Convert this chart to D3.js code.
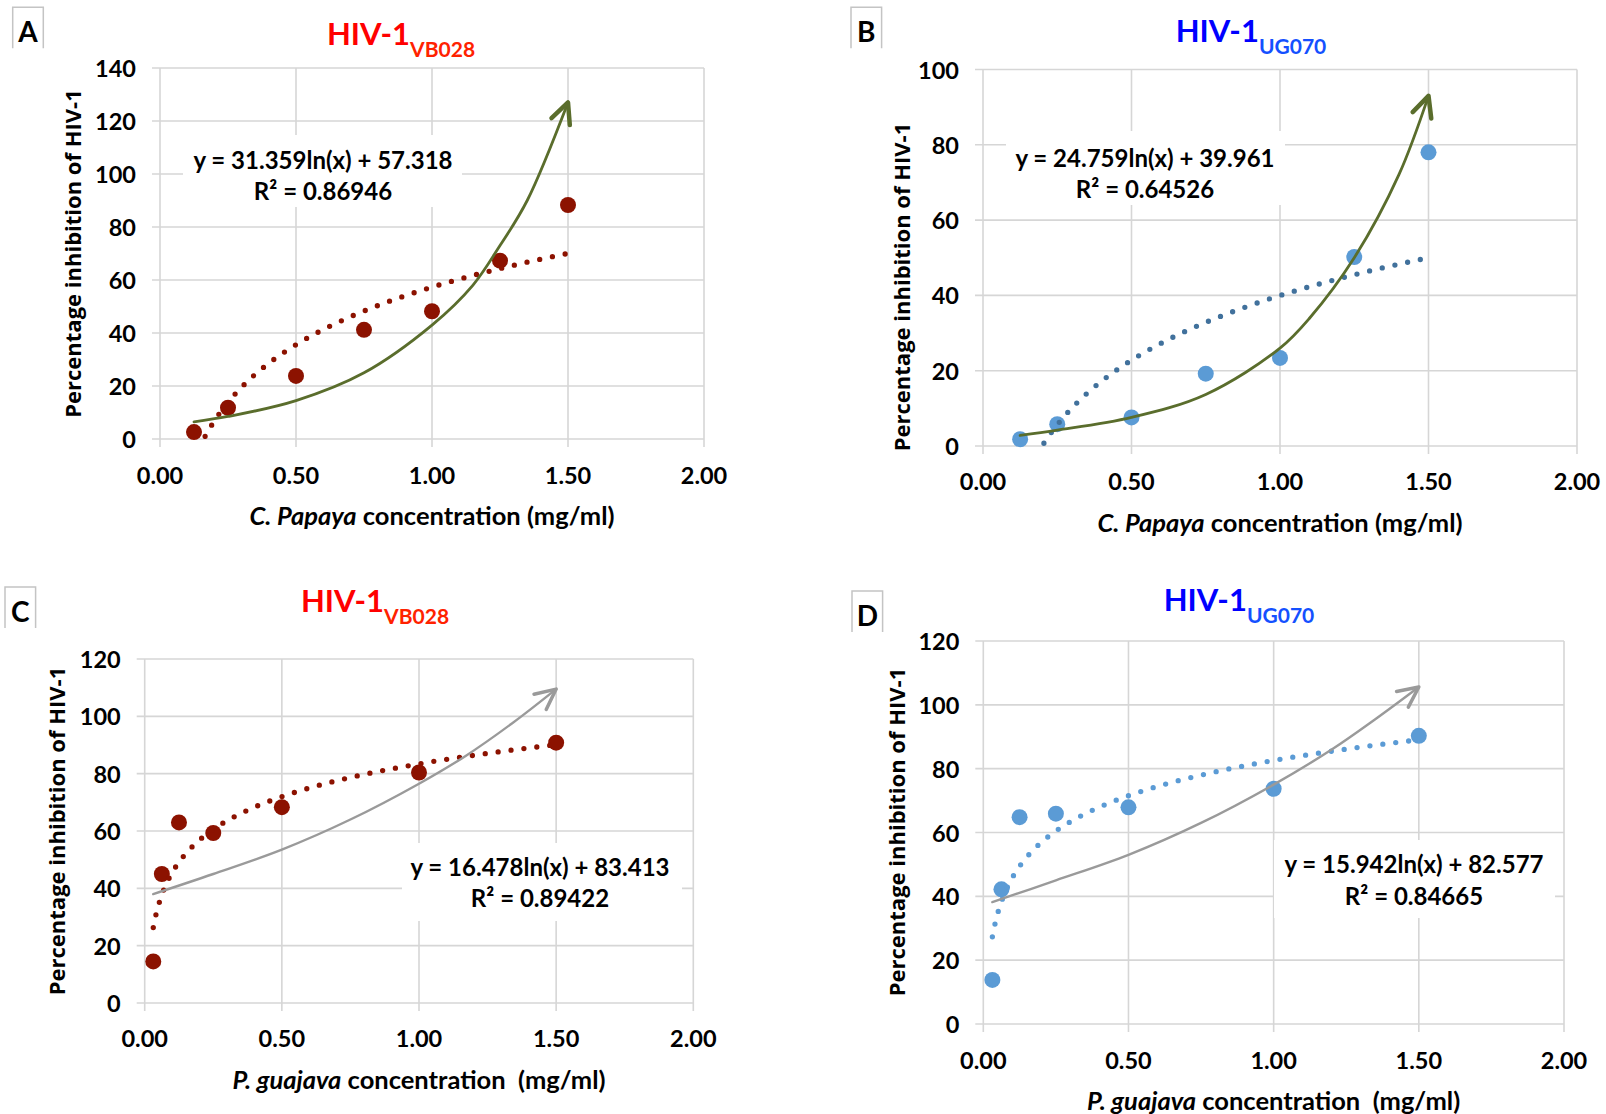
<!DOCTYPE html>
<html>
<head>
<meta charset="utf-8">
<script src="https://cdn.jsdelivr.net/npm/d3@7"></script>
<style>
  html, body { margin: 0; padding: 0; background: #fff; }
  svg { display: block; }
  text { font-family: Lato, "Open Sans", sans-serif; font-weight: bold; }
  .ytitle { font-family: "Open Sans", Lato, sans-serif; }
</style>
</head>
<body>
<div class="content"></div>
<script>
// concentrations (mg/ml)
var papayaConc = [0.125, 0.25, 0.5, 0.75, 1.0, 1.25, 1.5];
var guajavaConc = [0.03125, 0.0625, 0.125, 0.25, 0.5, 1.0, 1.5];

// percentage inhibition
var inhibA = [2.6, 11.8, 23.8, 41.2, 48.2, 67.3, 88.3];
var inhibB = [1.8, 5.8, 7.6, 19.2, 23.4, 50.2, 78.0];
var inhibC = [14.5, 45.0, 63.0, 59.3, 68.3, 80.4, 90.8];
var inhibD = [13.8, 42.2, 64.8, 65.9, 67.9, 73.7, 90.3];

// log trendlines: y = a ln(x) + b, and R²
var fitA = [31.359, 57.318], r2A = '0.86946';
var fitB = [24.759, 39.961], r2B = '0.64526';
var fitC = [16.478, 83.413], r2C = '0.89422';
var fitD = [15.942, 82.577], r2D = '0.84665';

// hand-drawn arrows laid over the plots
var arrowA = [[0.125, 6.5], [0.25, 8.5], [0.5, 14.5], [0.75, 25], [1.0, 43], [1.15, 58], [1.25, 73], [1.35, 90], [1.5, 127]];
var arrowB = [[0.125, 2.8], [0.25, 4.2], [0.5, 7.6], [0.75, 13.7], [1.0, 26], [1.1, 34], [1.25, 50], [1.4, 72], [1.5, 93]];
var arrowC = [[0.031, 38], [0.25, 45], [0.5, 53.5], [0.75, 64], [1.0, 76.5], [1.17, 86.2], [1.34, 97.6], [1.5, 109.5]];
var arrowD = [[0.031, 38.2], [0.25, 45], [0.5, 53], [0.75, 63], [1.0, 75], [1.2, 86], [1.35, 95.5], [1.5, 105.6]];

// ticks
var xTicks = [0, 0.5, 1.0, 1.5, 2.0];
var yTicksA = [0, 20, 40, 60, 80, 100, 120, 140];
var yTicksB = [0, 20, 40, 60, 80, 100];
var yTicksCD = [0, 20, 40, 60, 80, 100, 120];

// цвета
var red = '#8c1200',
    blue = '#5b9bd5',
    blueDark = '#41719c',
    olive = '#5a6d2c',
    grey = '#9a9a9a',
    gridColor = '#d6d6d6';

var w = 1606,
    h = 1114;

var svg = d3.select('.content').append('svg')
    .attr('width', w)
    .attr('height', h);

var defs = svg.append('defs');

// наконечники стрелок
[['arrow-olive', olive, 4.5], ['arrow-grey', grey, 3.5]].forEach(function(m) {
    defs.append('marker')
        .attr('id', m[0])
        .attr('markerUnits', 'userSpaceOnUse')
        .attr('viewBox', '-30 -16 36 32')
        .attr('markerWidth', 36)
        .attr('markerHeight', 32)
        .attr('refX', 0)
        .attr('refY', 0)
        .attr('orient', 'auto')
        .append('path')
        .attr('d', 'M-20.5,-9.8L0,0L-20.5,9.8')
        .attr('fill', 'none')
        .attr('stroke', m[1])
        .attr('stroke-width', m[2])
        .attr('stroke-linecap', 'round')
        .attr('stroke-linejoin', 'round');
});

var panels = [
    { id: 'A', conc: papayaConc, vals: inhibA, fit: fitA, r2: r2A, arrow: arrowA, yTicks: yTicksA,
      color: red, trendColor: red, arrowColor: olive, marker: 'arrow-olive', arrowW: 2.8,
      title: 'VB028', titleColor: '#ff0000', subColor: '#ff2200', species: 'C. Papaya', gap: ' ',
      x0: 160, x1: 704, y0: 439, y1: 68,
      letter: [12.7, 7.3], titleX: 401, titleY: 45, yTitleX: 72, yTitleY: 253.5,
      xLabY: 475, xTitleY: 515, eqBox: [183, 135, 279, 72], eqX: 323, eqY: [159, 190] },
    { id: 'B', conc: papayaConc, vals: inhibB, fit: fitB, r2: r2B, arrow: arrowB, yTicks: yTicksB,
      color: blue, trendColor: blueDark, arrowColor: olive, marker: 'arrow-olive', arrowW: 2.8,
      title: 'UG070', titleColor: '#0000ff', subColor: '#1450ff', species: 'C. Papaya', gap: ' ',
      x0: 983, x1: 1577, y0: 446, y1: 69.5,
      letter: [851, 7.3], titleX: 1251, titleY: 42, yTitleX: 901, yTitleY: 287,
      xLabY: 481, xTitleY: 522, eqBox: [1006, 131, 279, 74], eqX: 1145, eqY: [157, 188.5] },
    { id: 'C', conc: guajavaConc, vals: inhibC, fit: fitC, r2: r2C, arrow: arrowC, yTicks: yTicksCD,
      color: red, trendColor: red, arrowColor: grey, marker: 'arrow-grey', arrowW: 2.4,
      title: 'VB028', titleColor: '#ff0000', subColor: '#ff2200', species: 'P. guajava', gap: '  ',
      x0: 144.7, x1: 693.3, y0: 1003, y1: 659,
      letter: [5, 587], titleX: 375, titleY: 612, yTitleX: 56, yTitleY: 831,
      xLabY: 1037.5, xTitleY: 1078.5, eqBox: [402, 843, 280, 78], eqX: 540, eqY: [866.7, 897.3] },
    { id: 'D', conc: guajavaConc, vals: inhibD, fit: fitD, r2: r2D, arrow: arrowD, yTicks: yTicksCD,
      color: blue, trendColor: blue, arrowColor: grey, marker: 'arrow-grey', arrowW: 2.4,
      title: 'UG070', titleColor: '#0000ff', subColor: '#1450ff', species: 'P. guajava', gap: '  ',
      x0: 983.3, x1: 1564, y0: 1024, y1: 641,
      letter: [852, 591], titleX: 1239, titleY: 611, yTitleX: 896, yTitleY: 832,
      xLabY: 1060, xTitleY: 1100, eqBox: [1274, 840, 281, 78], eqX: 1414, eqY: [863.4, 895] }
];

panels.forEach(drawPanel);

function drawPanel(p) {
    var g = svg.append('g').attr('class', 'panel panel-' + p.id);

    var x = d3.scaleLinear().domain([0, 2]).range([p.x0, p.x1]);
    var y = d3.scaleLinear().domain([0, d3.max(p.yTicks)]).range([p.y0, p.y1]);

    // буква панели в рамке
    var lx = p.letter[0], ly = p.letter[1];
    g.append('path')
        .attr('d', 'M' + lx + ',' + (ly + 41) + 'V' + ly + 'H' + (lx + 30.6) + 'V' + (ly + 41))
        .attr('fill', 'none')
        .attr('stroke', '#c4c4c4')
        .attr('stroke-width', 1.5);
    g.append('text')
        .attr('x', lx + 15.3)
        .attr('y', ly + 24)
        .attr('text-anchor', 'middle')
        .attr('dominant-baseline', 'central')
        .style('font-size', '28px')
        .text(p.id);

    // заголовок
    var t = g.append('text')
        .attr('x', p.titleX)
        .attr('y', p.titleY)
        .attr('text-anchor', 'middle');
    t.append('tspan').attr('fill', p.titleColor).style('font-size', '31px').text('HIV-1');
    t.append('tspan').attr('fill', p.subColor).attr('dy', 12).style('font-size', '21px').text(p.title);

    // сетка
    g.append('g').selectAll('line.h')
        .data(p.yTicks)
        .enter().append('line')
        .attr('x1', p.x0 - 8).attr('x2', p.x1)
        .attr('y1', y).attr('y2', y)
        .attr('stroke', gridColor).attr('stroke-width', 1.6);
    g.append('g').selectAll('line.v')
        .data(xTicks)
        .enter().append('line')
        .attr('x1', x).attr('x2', x)
        .attr('y1', p.y0 + 8).attr('y2', p.y1)
        .attr('stroke', gridColor).attr('stroke-width', 1.6);

    // подписи осей
    g.append('g').selectAll('text')
        .data(p.yTicks)
        .enter().append('text')
        .attr('x', p.x0 - 24)
        .attr('y', y)
        .attr('text-anchor', 'end')
        .attr('dominant-baseline', 'central')
        .style('font-size', '23.5px')
        .text(function(d) { return d; });
    g.append('g').selectAll('text')
        .data(xTicks)
        .enter().append('text')
        .attr('x', x)
        .attr('y', p.xLabY)
        .attr('text-anchor', 'middle')
        .attr('dominant-baseline', 'central')
        .style('font-size', '23.5px')
        .text(d3.format('.2f'));

    g.append('text')
        .attr('class', 'ytitle')
        .attr('transform', 'translate(' + p.yTitleX + ',' + p.yTitleY + ')rotate(-90)')
        .attr('text-anchor', 'middle')
        .attr('dominant-baseline', 'central')
        .style('font-size', '22px')
        .text('Percentage inhibition of HIV-1');

    var xt = g.append('text')
        .attr('x', (p.x0 + p.x1) / 2)
        .attr('y', p.xTitleY)
        .attr('text-anchor', 'middle')
        .attr('dominant-baseline', 'central')
        .style('font-size', '25.5px')
        .style('white-space', 'pre');
    xt.append('tspan').style('font-style', 'italic').text(p.species);
    xt.append('tspan').text(' concentration' + p.gap + '(mg/ml)');

    // подложка под уравнение
    g.append('rect')
        .attr('x', p.eqBox[0]).attr('y', p.eqBox[1])
        .attr('width', p.eqBox[2]).attr('height', p.eqBox[3])
        .attr('fill', '#fff');
    g.append('text')
        .attr('x', p.eqX).attr('y', p.eqY[0])
        .attr('text-anchor', 'middle')
        .attr('dominant-baseline', 'central')
        .style('font-size', '24px')
        .text('y = ' + p.fit[0].toFixed(3) + 'ln(x) + ' + p.fit[1].toFixed(3));
    g.append('text')
        .attr('x', p.eqX).attr('y', p.eqY[1])
        .attr('text-anchor', 'middle')
        .attr('dominant-baseline', 'central')
        .style('font-size', '24px')
        .text('R² = ' + p.r2);

    // область построения с обрезкой
    var clipId = 'clip-' + p.id;
    defs.append('clipPath').attr('id', clipId)
        .append('rect')
        .attr('x', p.x0).attr('y', p.y1)
        .attr('width', p.x1 - p.x0).attr('height', p.y0 - p.y1);

    // точки
    g.append('g').selectAll('circle')
        .data(p.conc)
        .enter().append('circle')
        .attr('cx', x)
        .attr('cy', function(d, i) { return y(p.vals[i]); })
        .attr('r', 8)
        .attr('fill', p.color);

    // логарифмический тренд
    var xs = d3.range(0, 301).map(function(i) {
        return p.conc[0] + (1.5 - p.conc[0]) * i / 300;
    });
    var trend = d3.line()
        .x(function(d) { return x(d); })
        .y(function(d) { return y(p.fit[0] * Math.log(d) + p.fit[1]); });
    g.append('path')
        .attr('clip-path', 'url(#' + clipId + ')')
        .attr('d', trend(xs))
        .attr('fill', 'none')
        .attr('stroke', p.trendColor)
        .attr('stroke-width', 5.3)
        .attr('stroke-linecap', 'round')
        .attr('stroke-dasharray', '0 13');

    // стрелка
    var arrowLine = d3.line()
        .x(function(d) { return x(d[0]); })
        .y(function(d) { return y(d[1]); })
        .curve(d3.curveCatmullRom.alpha(0.5));
    g.append('path')
        .attr('d', arrowLine(p.arrow))
        .attr('fill', 'none')
        .attr('stroke', p.arrowColor)
        .attr('stroke-width', p.arrowW)
        .attr('stroke-linecap', 'round')
        .attr('marker-end', 'url(#' + p.marker + ')');
}
</script>
</body>
</html>
